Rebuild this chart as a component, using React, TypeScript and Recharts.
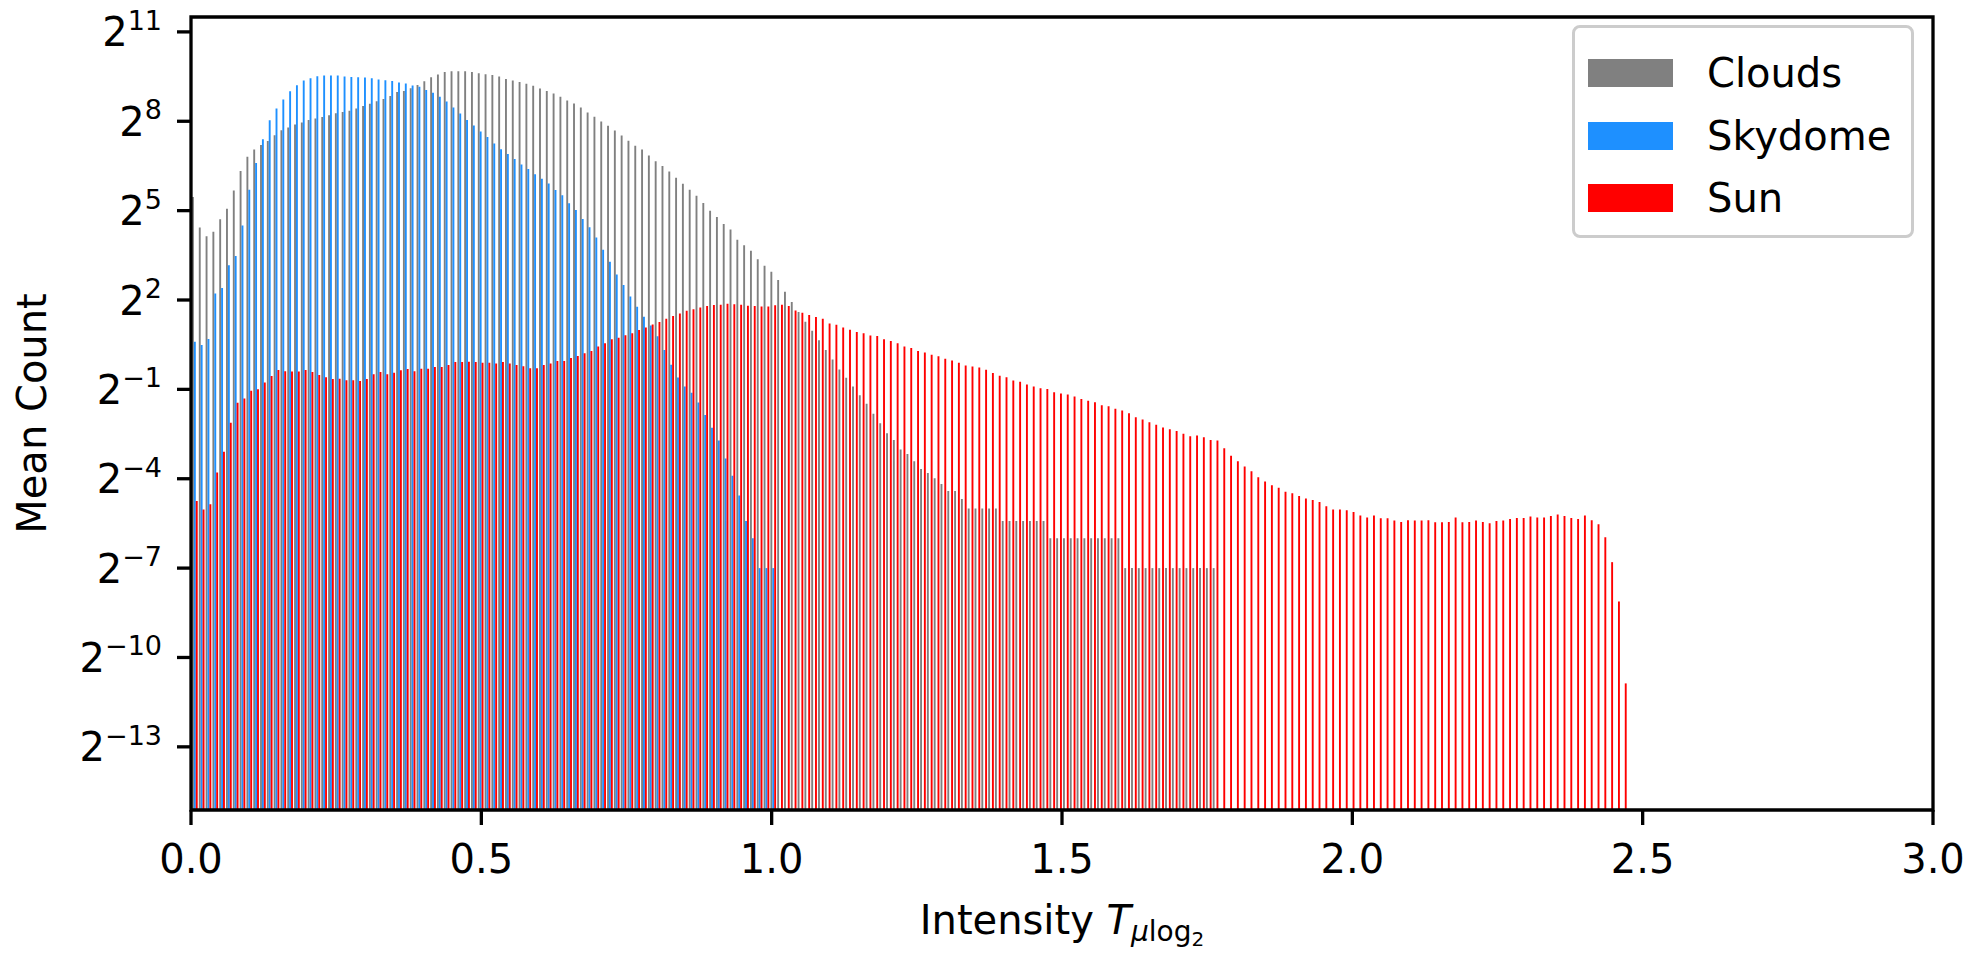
import { BarChart, Bar, XAxis, YAxis, Legend, ReferenceArea } from "recharts";

// Bins are 3/256 wide starting at 0; missing entries mean an empty bin.
const BIN_WIDTH = 3 / 256;

const cloudsLog2 = [
  5.46, 4.43, 4.14, 4.29, 4.71, 5.06, 5.68, 6.33, 6.81, 7.05,
  7.2, 7.34, 7.53, 7.7, 7.79, 7.89, 7.96, 8.04, 8.09, 8.14,
  8.2, 8.27, 8.31, 8.35, 8.43, 8.51, 8.59, 8.67, 8.75, 8.85,
  8.98, 9.02, 9.11, 9.22, 9.34, 9.48, 9.57, 9.65, 9.68, 9.68,
  9.68, 9.65, 9.61, 9.58, 9.55, 9.5, 9.42, 9.37, 9.32, 9.26,
  9.19, 9.1, 9.02, 8.93, 8.82, 8.7, 8.6, 8.46, 8.29, 8.15,
  7.99, 7.85, 7.69, 7.52, 7.35, 7.18, 7.05, 6.85, 6.66, 6.5,
  6.31, 6.1, 5.9, 5.7, 5.5, 5.26, 5.0, 4.79, 4.55, 4.37,
  4.02, 3.84, 3.65, 3.37, 3.15, 2.95, 2.67, 2.28, 1.93, 1.6,
  1.27, 0.97, 0.65, 0.32, 0.0, -0.33, -0.61, -0.9, -1.2, -1.48,
  -1.82, -2.14, -2.47, -2.7, -3.02, -3.17, -3.41, -3.67, -3.81, -3.98,
  -4.18, -4.41, -4.41, -4.68, -5, -5, -5, -5, -5, -5.42,
  -5.42, -5.42, -5.42, -5.42, -5.42, -5.42, -6, -6, -6, -6,
  -6, -6, -6, -6, -6, -6, -6, -7, -7, -7,
  -7, -7, -7, -7, -7, -7, -7, -7, -7, -7,
  -7,
];

const skydomeLog2 = [
  0.6, 0.49, 0.69, 2.22, 2.4, 3.17, 3.48, 4.5, 5.7, 6.6,
  7.4, 8.03, 8.43, 8.73, 9.01, 9.21, 9.37, 9.44, 9.51, 9.54,
  9.54, 9.54, 9.5, 9.49, 9.48, 9.47, 9.44, 9.4, 9.38, 9.35,
  9.3, 9.27, 9.2, 9.16, 9.05, 8.96, 8.82, 8.66, 8.46, 8.26,
  8.04, 7.86, 7.66, 7.47, 7.25, 7.06, 6.9, 6.73, 6.55, 6.4,
  6.22, 6.07, 5.91, 5.69, 5.52, 5.25, 5.02, 4.72, 4.44, 4.1,
  3.69, 3.28, 2.86, 2.5, 2.12, 1.77, 1.44, 1.14, 0.78, 0.32,
  -0.17, -0.6, -0.9, -1.11, -1.44, -1.86, -2.29, -2.72, -3.32, -3.9,
  -4.56, -5.42, -6, -7, -7, -7,
];

const sunLog2 = [
  -4.75, -5.03, -4.86, -3.79, -3.09, -2.12, -1.45, -1.31, -1.05, -1.0,
  -0.77, -0.55, -0.35, -0.39, -0.4, -0.4, -0.35, -0.42, -0.52, -0.59,
  -0.65, -0.64, -0.69, -0.69, -0.72, -0.65, -0.49, -0.42, -0.49, -0.44,
  -0.36, -0.32, -0.39, -0.31, -0.31, -0.25, -0.25, -0.18, -0.08, -0.08,
  -0.07, -0.08, -0.11, -0.11, -0.13, -0.08, -0.13, -0.18, -0.22, -0.29,
  -0.29, -0.18, -0.13, -0.05, -0.05, 0.05, 0.12, 0.21, 0.29, 0.44,
  0.55, 0.68, 0.73, 0.82, 0.88, 0.99, 1.08, 1.18, 1.26, 1.37,
  1.46, 1.55, 1.64, 1.69, 1.75, 1.8, 1.83, 1.84, 1.87, 1.86,
  1.84, 1.81, 1.8, 1.78, 1.78, 1.82, 1.84, 1.8, 1.65, 1.57,
  1.5, 1.43, 1.37, 1.21, 1.17, 1.08, 1.0, 0.93, 0.88, 0.81,
  0.79, 0.68, 0.62, 0.55, 0.44, 0.39, 0.29, 0.24, 0.16, 0.11,
  0.03, -0.03, -0.11, -0.2, -0.23, -0.27, -0.34, -0.45, -0.54, -0.59,
  -0.7, -0.74, -0.84, -0.9, -0.96, -0.99, -1.1, -1.14, -1.17, -1.24,
  -1.32, -1.38, -1.43, -1.53, -1.57, -1.65, -1.71, -1.8, -1.94, -2.01,
  -2.1, -2.19, -2.28, -2.34, -2.4, -2.49, -2.57, -2.55, -2.61, -2.7,
  -2.72, -2.98, -3.23, -3.41, -3.59, -3.75, -3.95, -4.09, -4.22, -4.3,
  -4.44, -4.49, -4.58, -4.66, -4.71, -4.78, -4.92, -5.03, -5.03, -5.06,
  -5.12, -5.23, -5.3, -5.23, -5.33, -5.33, -5.4, -5.45, -5.39, -5.4,
  -5.4, -5.39, -5.46, -5.46, -5.45, -5.3, -5.46, -5.45, -5.4, -5.45,
  -5.49, -5.42, -5.4, -5.35, -5.32, -5.32, -5.27, -5.3, -5.3, -5.25,
  -5.2, -5.25, -5.32, -5.35, -5.23, -5.39, -5.53, -5.96, -6.8, -8.12,
  -10.87,
];

const xTicks = [0, 0.5, 1, 1.5, 2, 2.5, 3];
const yTickExps = [-13, -10, -7, -4, -1, 2, 5, 8, 11];
const seriesNames = ["Clouds", "Skydome", "Sun"];
const seriesKeys = ["clouds", "skydome", "sun"];
const seriesColors = ["#808080", "#1e90ff", "#ff0000"];

const Y_MIN_EXP = -15.12;
const Y_MAX_EXP = 11.5;

const FONT = "'DejaVu Sans', sans-serif";
const SPINE = 3.3;

const toCount = (e?: number) => (e === undefined ? null : Math.pow(2, e));

const data = sunLog2.map((_, i) => ({
  x: (i + 0.5) * BIN_WIDTH,
  clouds: toCount(cloudsLog2[i]),
  skydome: toCount(skydomeLog2[i]),
  sun: toCount(sunLog2[i]),
}));

function PowerTick({ x, y, payload }: any) {
  const exp = Math.round(Math.log2(payload.value));
  const sup = exp < 0 ? "\u2212" + Math.abs(exp) : String(exp);
  return (
    <text x={x} y={y + 14.5} textAnchor="end" fontFamily={FONT} fontSize={40} fill="#000">
      2
      <tspan dy={-16.5} fontSize={27}>
        {sup}
      </tspan>
    </text>
  );
}

function DecimalTick({ x, y, payload }: any) {
  return (
    <text x={x} y={y + 48} textAnchor="middle" fontFamily={FONT} fontSize={40} fill="#000">
      {Number(payload.value).toFixed(1)}
    </text>
  );
}

function XTitle({ viewBox }: any) {
  const cx = viewBox.x + viewBox.width / 2;
  const by = viewBox.y + 124;
  return (
    <text x={cx} y={by} textAnchor="middle" fontFamily={FONT} fontSize={40} fill="#000">
      Intensity{" "}
      <tspan fontStyle="italic">T</tspan>
      <tspan fontStyle="italic" fontSize={28} dy={7}>
        μ
      </tspan>
      <tspan fontSize={28}>log</tspan>
      <tspan fontSize={20} dy={5}>
        2
      </tspan>
    </text>
  );
}

function YTitle({ viewBox }: any) {
  const cy = viewBox.y + viewBox.height / 2;
  const bx = 46;
  return (
    <text
      x={bx}
      y={cy}
      transform={`rotate(-90, ${bx}, ${cy})`}
      textAnchor="middle"
      fontFamily={FONT}
      fontSize={40}
      fill="#000"
    >
      Mean Count
    </text>
  );
}

function LegendBox() {
  return (
    <div
      style={{
        width: 342,
        height: 213,
        boxSizing: "border-box",
        border: "3px solid #cccccc",
        borderRadius: 8,
        background: "rgba(255,255,255,0.8)",
        position: "relative",
        fontFamily: FONT,
        fontSize: 40,
      }}
    >
      {seriesNames.map((name, i) => (
        <div
          key={name}
          style={{
            position: "absolute",
            left: 13,
            top: 45 + i * 62.6 - 25,
            height: 50,
            display: "flex",
            alignItems: "center",
          }}
        >
          <div style={{ width: 85, height: 28, background: seriesColors[i] }} />
          <span style={{ marginLeft: 34, lineHeight: "50px", color: "#000", whiteSpace: "nowrap" }}>
            {name}
          </span>
        </div>
      ))}
    </div>
  );
}

export default function App() {
  return (
    <div style={{ position: "absolute", left: 0, top: 0, width: 1982, height: 965, background: "#fff" }}>
      <BarChart
        width={1982}
        height={965}
        data={data}
        margin={{ top: 17, right: 49, left: 41, bottom: 10 }}
        barGap={0}
        barCategoryGap={0}
      >
        <XAxis
          dataKey="x"
          type="number"
          domain={[0, 3]}
          ticks={xTicks}
          allowDataOverflow
          height={145}
          axisLine={false}
          tickSize={15}
          tickMargin={0}
          tickLine={{ stroke: "#000", strokeWidth: SPINE }}
          tick={<DecimalTick />}
          interval={0}
          label={<XTitle />}
        />
        <YAxis
          type="number"
          scale="log"
          domain={[Math.pow(2, Y_MIN_EXP), Math.pow(2, Y_MAX_EXP)]}
          ticks={yTickExps.map((e) => Math.pow(2, e))}
          allowDataOverflow
          width={150}
          axisLine={false}
          tickSize={14}
          tickMargin={15}
          tickLine={{ stroke: "#000", strokeWidth: SPINE }}
          tick={<PowerTick />}
          interval={0}
          label={<YTitle />}
        />
        <Legend
          layout="vertical"
          align="center"
          verticalAlign="middle"
          wrapperStyle={{ left: 1572, top: 25, width: 342, height: 213 }}
          content={<LegendBox />}
        />
        {seriesKeys.map((key, i) => (
          <Bar
            key={key}
            dataKey={key}
            name={seriesNames[i]}
            fill={seriesColors[i]}
            barSize={1.9}
            isAnimationActive={false}
          />
        ))}
        <ReferenceArea
          x1={0}
          x2={3}
          y1={Math.pow(2, Y_MIN_EXP)}
          y2={Math.pow(2, Y_MAX_EXP)}
          fill="none"
          stroke="#000"
          strokeWidth={SPINE}
          ifOverflow="visible"
          zIndex={1000}
        />
      </BarChart>
    </div>
  );
}
